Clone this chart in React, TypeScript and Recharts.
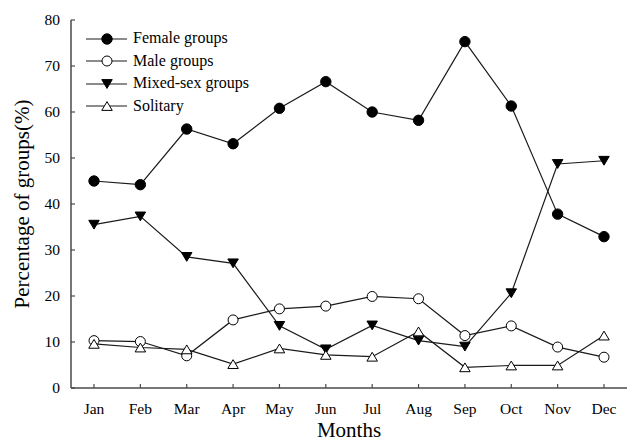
import React from 'react';
import { LineChart, Line, XAxis, YAxis, Legend } from 'recharts';

const months = ['Jan', 'Feb', 'Mar', 'Apr', 'May', 'Jun', 'Jul', 'Aug', 'Sep', 'Oct', 'Nov', 'Dec'];
const female = [45.0, 44.2, 56.3, 53.1, 60.8, 66.6, 60.0, 58.2, 75.3, 61.3, 37.8, 32.9];
const male = [10.3, 10.1, 7.0, 14.8, 17.2, 17.8, 19.9, 19.4, 11.4, 13.5, 8.9, 6.7];
const mixed = [35.5, 37.3, 28.5, 27.1, 13.5, 8.4, 13.6, 10.3, 9.0, 20.6, 48.7, 49.4];
const solitary = [9.6, 8.8, 8.4, 5.2, 8.6, 7.2, 6.8, 12.3, 4.5, 4.9, 4.9, 11.4];
const yTicks = [0, 10, 20, 30, 40, 50, 60, 70, 80];

const seriesNames = ['Female groups', 'Male groups', 'Mixed-sex groups', 'Solitary'];

const data = months.map((m, i) => ({
  month: m,
  female: female[i],
  male: male[i],
  mixed: mixed[i],
  solitary: solitary[i],
}));

const FONT = 'Liberation Serif, serif';
const LINE = '#1a1a1a';
const AXIS = '#4a4a4a';

type MarkerKind = 'filledCircle' | 'openCircle' | 'downTri' | 'upTri';

function marker(kind: MarkerKind, cx: number, cy: number, key?: string | number) {
  if (kind === 'filledCircle') return <circle key={key} cx={cx} cy={cy} r={5.2} fill="#000" stroke="#000" strokeWidth={1} />;
  if (kind === 'openCircle') return <circle key={key} cx={cx} cy={cy} r={5} fill="#fff" stroke="#000" strokeWidth={1} />;
  const s = 10.5;
  const h = 8.8;
  if (kind === 'downTri') {
    const pts = `${cx - s / 2},${cy - h / 2} ${cx + s / 2},${cy - h / 2} ${cx},${cy + h / 2}`;
    return <polygon key={key} points={pts} fill="#000" stroke="#000" strokeWidth={1} />;
  }
  const pts = `${cx - s / 2},${cy + h / 2} ${cx + s / 2},${cy + h / 2} ${cx},${cy - h / 2}`;
  return <polygon key={key} points={pts} fill="#fff" stroke="#000" strokeWidth={1} />;
}

const makeDot = (kind: MarkerKind) => (props: any) => {
  const { cx, cy, index } = props;
  if (cx == null || cy == null) return <g key={index} />;
  return marker(kind, cx, cy, index);
};

const kinds: MarkerKind[] = ['filledCircle', 'openCircle', 'downTri', 'upTri'];

const textStyle = { fontFamily: FONT, fontSize: 15.5, fill: '#000' };

const XTick = (props: any) => {
  const { payload, y } = props;
  const x = payload.coordinate;
  return (
    <g>
      <line x1={x} y1={y} x2={x} y2={y - 4} stroke={AXIS} strokeWidth={1.2} />
      <text x={x} y={y + 26} textAnchor="middle" style={textStyle}>
        {payload.value}
      </text>
    </g>
  );
};

const YTick = (props: any) => {
  const { payload } = props;
  const y = payload.coordinate;
  const axisX = 71;
  return (
    <g>
      <line x1={axisX} y1={y} x2={axisX + 4} y2={y} stroke={AXIS} strokeWidth={1.2} />
      <text x={60} y={y} dy="0.35em" textAnchor="end" style={textStyle}>
        {payload.value}
      </text>
    </g>
  );
};

const LegendContent = () => (
  <div style={{ fontFamily: FONT, fontSize: 16, color: '#000', lineHeight: '22.6px' }}>
    {seriesNames.map((name, i) => (
      <div key={name} style={{ display: 'flex', alignItems: 'center', height: 22.6, whiteSpace: 'nowrap' }}>
        <svg width={44} height={14} style={{ display: 'block' }}>
          <line x1={0} y1={7} x2={41} y2={7} stroke={LINE} strokeWidth={1.2} />
          {marker(kinds[i], 21, 7)}
        </svg>
        <span style={{ marginLeft: 3 }}>{name}</span>
      </div>
    ))}
  </div>
);

export default function App() {
  return (
    <div style={{ position: 'absolute', left: 0, top: 0, width: 629, height: 441, background: '#fff', fontFamily: FONT }}>
      <LineChart width={629} height={441} data={data} margin={{ top: 20, right: 2, left: 0, bottom: 0 }}>
        <XAxis
          dataKey="month"
          height={53}
          interval={0}
          padding={{ left: 23, right: 23 }}
          tickSize={0}
          tickMargin={0}
          tickLine={false}
          tick={<XTick />}
          axisLine={{ stroke: AXIS, strokeWidth: 1.5 }}
          label={{ value: 'Months', position: 'insideBottom', offset: 4, style: { fontFamily: FONT, fontSize: 21, fill: '#000' } }}
        />
        <YAxis
          width={71}
          domain={[0, 80]}
          ticks={yTicks}
          interval={0}
          tickSize={0}
          tickMargin={0}
          tickLine={false}
          tick={<YTick />}
          axisLine={{ stroke: AXIS, strokeWidth: 1.5 }}
          label={{ value: 'Percentage of groups(%)', angle: -90, position: 'center', dx: -13.5, style: { fontFamily: FONT, fontSize: 21, fill: '#000', textAnchor: 'middle' } }}
        />
        <Legend
          layout="horizontal"
          verticalAlign="middle"
          align="center"
          wrapperStyle={{ left: 86, top: 27.3, width: 'auto' }}
          content={<LegendContent />}
        />
        <Line dataKey="female" name={seriesNames[0]} stroke={LINE} strokeWidth={1.2} dot={makeDot('filledCircle')} activeDot={false} isAnimationActive={false} />
        <Line dataKey="male" name={seriesNames[1]} stroke={LINE} strokeWidth={1.2} dot={makeDot('openCircle')} activeDot={false} isAnimationActive={false} />
        <Line dataKey="mixed" name={seriesNames[2]} stroke={LINE} strokeWidth={1.2} dot={makeDot('downTri')} activeDot={false} isAnimationActive={false} />
        <Line dataKey="solitary" name={seriesNames[3]} stroke={LINE} strokeWidth={1.2} dot={makeDot('upTri')} activeDot={false} isAnimationActive={false} />
      </LineChart>
    </div>
  );
}
